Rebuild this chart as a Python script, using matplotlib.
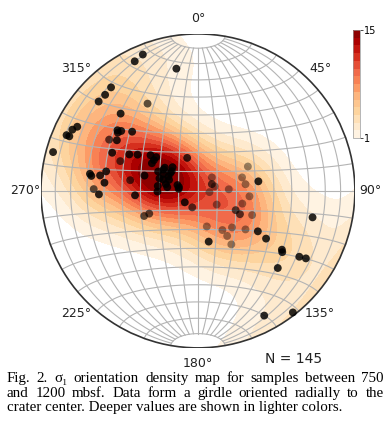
import numpy as np
import matplotlib
matplotlib.use("Agg")
import matplotlib.pyplot as plt
from matplotlib.patches import Circle

# sigma1 orientations (trend / plunge, degrees) and sample depth (mbsf)
trend = [334, 338, 350, 320, 316, 312, 330, 315, 298, 296, 293, 293, 285, 307, 308, 306, 312, 300, 302, 294,
         291, 298, 301, 307, 309, 305, 342, 279, 278, 279, 282, 275, 271, 268, 279, 266, 286, 296, 305, 313,
         303, 296, 296, 288, 282, 277, 269, 291, 286, 281, 301, 302, 229, 199, 245, 245, 46, 64, 75, 96,
         87, 126, 73, 82, 64, 81, 96, 106, 117, 119, 114, 103, 166, 148, 137, 129, 124, 125, 147, 148,
         168, 125, 126, 123, 122, 134, 152, 142, 307, 288, 277, 276]
plunge = [9, 7, 22, 15, 16, 16, 36, 31, 14, 12, 10, 12, 5, 36, 38, 37, 43, 35, 39, 40,
          46, 49, 53, 59, 62, 62, 72, 31, 32, 37, 40, 40, 34, 37, 54, 57, 61, 67, 69, 72,
          73, 73, 70, 69, 73, 69, 69, 74, 79, 80, 62, 69, 81, 81, 62, 59, 80, 82, 81, 84,
          74, 78, 66, 65, 61, 58, 63, 66, 68, 65, 59, 26, 71, 66, 64, 58, 52, 46, 62, 57,
          63, 35, 34, 24, 20, 30, 11, 2, 73, 71, 74, 80]
depth = [800, 800, 800, 800, 800, 800, 950, 800, 800, 800, 800, 800, 800, 800, 800, 800, 800, 950, 800, 800,
         950, 800, 800, 800, 800, 800, 850, 800, 800, 800, 800, 800, 950, 800, 950, 800, 800, 800, 800, 800,
         800, 800, 800, 800, 800, 800, 800, 800, 800, 800, 800, 800, 800, 950, 950, 950, 1120, 950, 1120, 1120,
         1120, 1120, 1120, 1120, 1120, 800, 1120, 1120, 950, 950, 1120, 800, 1120, 1120, 1120, 1120, 800, 800, 1120, 1120,
         800, 800, 800, 800, 800, 800, 800, 800, 800, 800, 800, 800]
n_total = 145
dir_labels = ["0°", "45°", "90°", "135°", "180°", "225°", "270°", "315°"]
cbar_ticks = [1, 15]
caption = [
    "Fig. 2. σ₁ orientation density map for samples between 750",
    "and 1200 mbsf. Data form a girdle oriented radially to the",
    "crater center. Deeper values are shown in lighter colors.",
]


def to_xyz(t, p):
    t = np.radians(t)
    p = np.radians(p)
    return np.array([np.cos(p) * np.sin(t), np.cos(p) * np.cos(t), np.sin(p)])  # E, N, Down


def project(e, n, d):
    # lower hemisphere equal-area, unit primitive
    f = 1.0 / np.sqrt(1.0 + d)
    return e * f, n * f


data = to_xyz(np.array(trend), np.array(plunge))

# density grid (exponential Kamb), rescaled so the peak sits at the top of the colour scale
gx, gy = np.meshgrid(np.linspace(-1.02, 1.02, 160), np.linspace(-1.02, 1.02, 160))
rr = np.hypot(gx, gy).clip(1e-9)
theta = 2 * np.arcsin(np.clip(rr, 0, 1.0) / np.sqrt(2))
grid_xyz = np.stack([(np.sin(theta) * gx / rr).ravel(),
                     (np.sin(theta) * gy / rr).ravel(),
                     np.cos(theta).ravel()], axis=1)

sigma = 3.6
npts = data.shape[1]
f = 2 * (1.0 + npts / sigma ** 2)
cos_dist = np.abs(grid_xyz @ data)
dens = np.exp(f * (cos_dist - 1)).sum(axis=1).reshape(gx.shape)
dens = dens / dens.max() * 16.0

fig = plt.figure(figsize=(3.9, 4.29), dpi=100)
ax = fig.add_axes([0.105, 0.189, 0.805, 0.732])
ax.set_xlim(-1, 1)
ax.set_ylim(-1, 1)
ax.set_aspect("equal")
ax.axis("off")

levels = np.arange(1, 16)
cf = ax.contourf(gx, gy, np.clip(dens, 0, 14.99), levels=levels, cmap="OrRd", zorder=1)
clip = Circle((0, 0), 1, transform=ax.transData, facecolor="none", edgecolor="none")
ax.add_patch(clip)
cf.set_clip_path(clip)

# Schmidt net grid, 10 degree spacing, meridians capped at 80 degrees
gcol = "#b4b4b4"
phi = np.radians(np.linspace(-80, 80, 200))
for lam in range(-80, 81, 10):
    l = np.radians(lam)
    x, y = project(np.cos(phi) * np.sin(l), np.sin(phi), np.cos(phi) * np.cos(l))
    ax.plot(x, y, color=gcol, lw=0.8, zorder=2)
lam_all = np.radians(np.linspace(-90, 90, 200))
for ph in range(-80, 81, 10):
    p = np.radians(ph)
    x, y = project(np.cos(p) * np.sin(lam_all), np.full_like(lam_all, np.sin(p)), np.cos(p) * np.cos(lam_all))
    ax.plot(x, y, color=gcol, lw=0.8, zorder=2)

ax.add_patch(Circle((0, 0), 1, facecolor="none", edgecolor="#333333", lw=1.2, zorder=3))

px, py = project(*data)
alpha = 0.9 - 0.6 * (np.array(depth) - 750) / 450.0
colors = np.zeros((len(alpha), 4))
colors[:, 3] = alpha
ax.scatter(px, py, s=32, c=colors, edgecolors="none", zorder=4)

for i, lab in enumerate(dir_labels):
    a = np.radians(45 * i)
    ax.text(1.10 * np.sin(a), 1.10 * np.cos(a), lab, ha="center", va="center",
            fontsize=9, color="#222222", clip_on=False)

fig.text(0.754, 0.163, f"N = {n_total}", ha="center", va="center", fontsize=10, color="#222222")

cax = fig.add_axes([0.905, 0.678, 0.017, 0.252])
cb = fig.colorbar(cf, cax=cax, ticks=cbar_ticks)
cb.ax.tick_params(labelsize=7, length=2, width=0.5, pad=1)
cb.outline.set_linewidth(0.5)
cb.outline.set_edgecolor("#999999")

# justified caption
renderer = fig.canvas.get_renderer()
fw = fig.bbox.width
cap_kw = dict(fontsize=10.8, family=["Liberation Serif", "DejaVu Serif"], va="baseline")
ys = [0.110, 0.075, 0.042]
for k, (line, y) in enumerate(zip(caption, ys)):
    if k == len(caption) - 1:
        fig.text(7 / fw, y, line, **cap_kw)
        continue
    words = line.split(" ")
    texts = [fig.text(0, y, w, **cap_kw) for w in words]
    widths = [t.get_window_extent(renderer).width for t in texts]
    gap = ((384 - 7) - sum(widths)) / (len(words) - 1)
    x = 7.0
    for t, w in zip(texts, widths):
        t.set_x(x / fw)
        x += w + gap

fig.savefig("out.png", dpi=100)
